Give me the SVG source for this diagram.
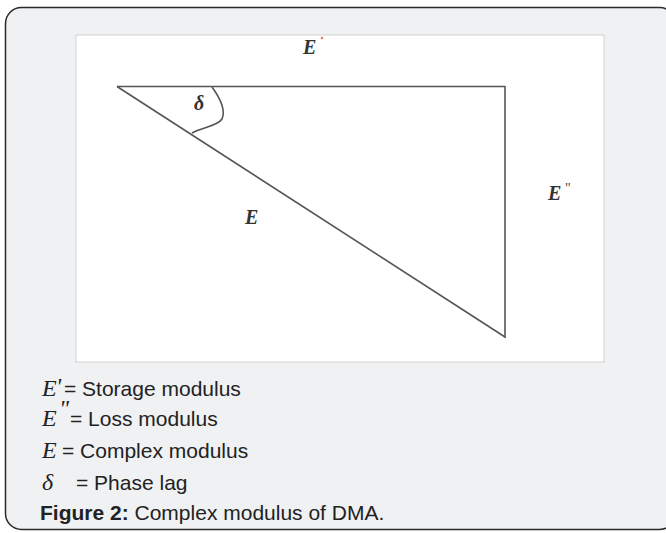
<svg xmlns="http://www.w3.org/2000/svg" width="666" height="533" viewBox="0 0 666 533">
<style>
.lbl{font-family:"Liberation Serif","DejaVu Serif",serif;font-weight:bold;font-style:italic;font-size:20px;fill:#333}
.sup{font-family:"Liberation Serif",serif;font-size:14px;fill:#444}
.leg{font-family:"Liberation Sans",Arial,sans-serif;font-size:21px;fill:#222}
.mth{font-family:"Liberation Serif","Times New Roman",serif;font-style:italic;font-size:24px;fill:#222}
.ln{stroke:#555;fill:none;stroke-width:1.6}
</style>
<rect x="5.5" y="7.5" width="670" height="522" rx="16" fill="#f0f1f3" stroke="#2a2a2a" stroke-width="1.5"/>
<rect x="76" y="35" width="528" height="327" fill="#ffffff" stroke="#d2d2d2" stroke-width="1"/>
<g id="triangle">
<line class="ln" x1="117" y1="86.5" x2="505" y2="86.5" stroke-width="2" stroke="#444"/>
<line class="ln" x1="505" y1="86" x2="505" y2="338" stroke-width="2.6" stroke="#444"/>
<line class="ln" x1="117" y1="86.5" x2="505" y2="337"/>
<path class="ln" d="M212,87 C220,98 226,110 222,119 C218,126 200,128 192,133"/>
</g>
<g id="label-delta"><text class="lbl" x="194" y="110" font-size="17px">δ</text></g>
<g id="label-E-prime"><text class="lbl" x="303" y="54">E</text><circle cx="322" cy="38" r="1.3" fill="#e08060"/></g>
<g id="label-E-dprime"><text class="lbl" x="548" y="200">E</text><text class="sup" x="565" y="193">"</text></g>
<g id="label-E"><text class="lbl" x="245" y="224">E</text></g>
<g id="legend">
<text class="mth" x="42" y="396">E</text><text class="mth" x="56" y="394" font-size="20px" font-style="normal">'</text><text class="leg" x="64" y="396">= Storage modulus</text>
<text class="mth" x="42" y="426">E</text><text class="mth" x="59" y="416" font-size="13px" font-style="normal">"</text><text class="leg" x="70" y="426">= Loss modulus</text>
<text class="mth" x="42" y="458">E</text><text class="leg" x="62" y="458">= Complex modulus</text>
<text class="mth" x="42" y="490" font-size="30px">δ</text><text class="leg" x="76" y="490">= Phase lag</text>
<text x="40" y="520" class="leg"><tspan font-weight="bold">Figure 2:</tspan> Complex modulus of DMA.</text>
</g>
</svg>
